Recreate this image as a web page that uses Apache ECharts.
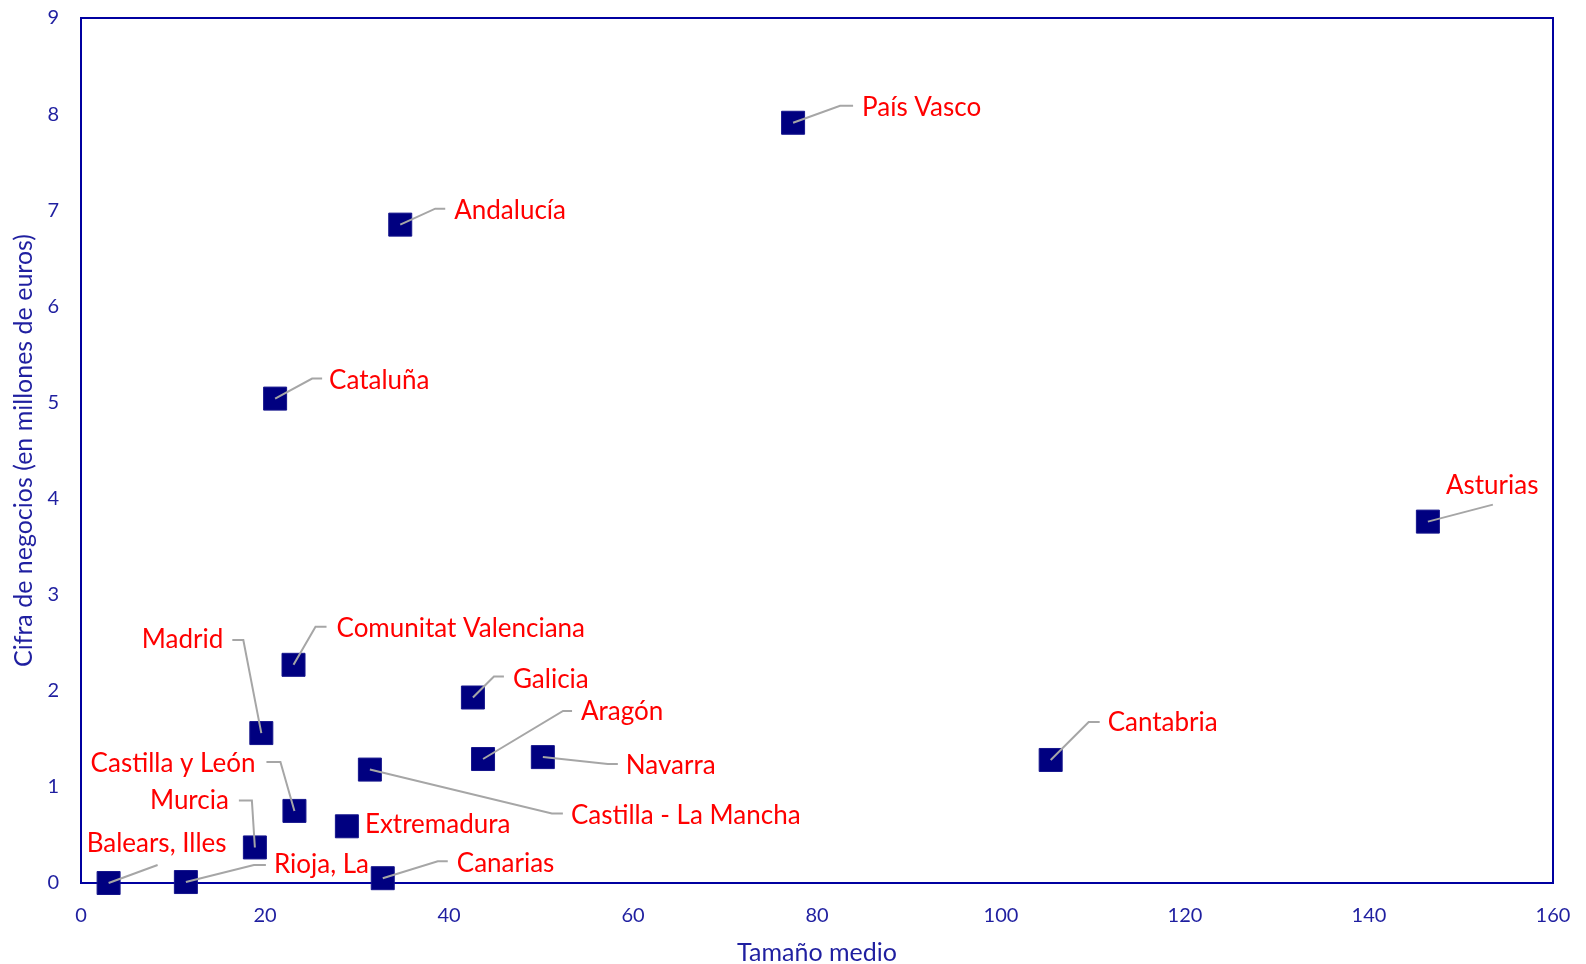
<!DOCTYPE html>
<html>
<head>
<meta charset="utf-8">
<script src="https://cdn.jsdelivr.net/npm/echarts@6/dist/echarts.min.js"></script>
<style>
html,body{margin:0;padding:0;background:#fff;}
#chart{width:1586px;height:964px;}
</style>
</head>
<body>
<div id="chart"></div>
<script>
// ---- DATA ----
const regions = ["País Vasco","Andalucía","Cataluña","Asturias","Comunitat Valenciana","Galicia","Madrid","Aragón","Navarra","Cantabria","Castilla - La Mancha","Castilla y León","Extremadura","Murcia","Balears, Illes","Rioja, La","Canarias"];
const tamanoMedio = [77.4, 34.7, 21.1, 146.4, 23.1, 42.6, 19.6, 43.7, 50.2, 105.4, 31.4, 23.2, 28.9, 18.9, 3.0, 11.4, 32.8];
const cifraNegocios = [7.91, 6.85, 5.04, 3.76, 2.27, 1.93, 1.56, 1.29, 1.31, 1.28, 1.18, 0.75, 0.59, 0.37, 0.0, 0.01, 0.05];
const xTicks = { min: 0, max: 160, interval: 20 };
const yTicks = { min: 0, max: 9, interval: 1 };

// ---- LABEL LAYOUT (pixel offsets from marker centre) ----
const labelLayout = {
  "País Vasco": { line: [[47,-17],[60,-17]], text: [69,-15,'left'] },
  "Andalucía": { line: [[35,-16],[45,-16]], text: [54,-14,'left'] },
  "Cataluña": { line: [[37,-20],[47,-20]], text: [54,-18,'left'] },
  "Asturias": { line: [[65,-17]], text: [18,-36,'left'] },
  "Comunitat Valenciana": { line: [[22,-38],[33,-38]], text: [43,-36,'left'] },
  "Galicia": { line: [[21,-21],[31,-21]], text: [40,-18,'left'] },
  "Madrid": { line: [[-18,-93],[-29,-93]], text: [-38,-93,'right'] },
  "Aragón": { line: [[80,-48],[89,-48]], text: [98,-47,'left'] },
  "Navarra": { line: [[65,7],[75,7]], text: [83,9,'left'] },
  "Cantabria": { line: [[38,-38],[49,-38]], text: [57,-37,'left'] },
  "Castilla - La Mancha": { line: [[182,44],[193,44]], text: [201,46,'left'] },
  "Castilla y León": { line: [[-14,-49],[-28,-49]], text: [-39,-47,'right'] },
  "Extremadura": { line: null, text: [18,-2,'left'] },
  "Murcia": { line: [[-3,-47],[-16,-47]], text: [-26,-47,'right'] },
  "Balears, Illes": { line: [[49,-18]], text: [48,-39,'center'] },
  "Rioja, La": { line: [[68,-17],[80,-17]], text: [88,-17,'left'] },
  "Canarias": { line: [[55,-17],[65,-17]], text: [74,-15,'left'] }
};

const FONT = 'Lato';
const AXIS_COLOR = '#0000A0';
const TEXT_BLUE = '#1F1FA0';

const points = regions.map((n, i) => [tamanoMedio[i], cifraNegocios[i], n]);

const chart = echarts.init(document.getElementById('chart'), null, { renderer: 'canvas' });
chart.setOption({
  animation: false,
  backgroundColor: '#ffffff',
  grid: { left: 81, top: 18, right: 33, bottom: 81, containLabel: false, outerBoundsMode: 'none',
          show: true, borderColor: AXIS_COLOR, borderWidth: 2 },
  xAxis: {
    type: 'value', min: xTicks.min, max: xTicks.max, interval: xTicks.interval,
    name: 'Tamaño medio', nameLocation: 'middle', nameGap: 57,
    nameTextStyle: { color: TEXT_BLUE, fontFamily: FONT, fontSize: 25 },
    axisLine: { show: true, lineStyle: { color: AXIS_COLOR, width: 2 } },
    axisTick: { show: false }, splitLine: { show: false },
    axisLabel: { color: TEXT_BLUE, fontFamily: FONT, fontSize: 20, margin: 23 }
  },
  yAxis: {
    type: 'value', min: yTicks.min, max: yTicks.max, interval: yTicks.interval,
    name: 'Cifra de negocios (en millones de euros)', nameLocation: 'middle', nameGap: 43, nameRotate: 90,
    nameTextStyle: { color: TEXT_BLUE, fontFamily: FONT, fontSize: 25 },
    axisLine: { show: true, lineStyle: { color: AXIS_COLOR, width: 2 } },
    axisTick: { show: false }, splitLine: { show: false },
    axisLabel: { color: TEXT_BLUE, fontFamily: FONT, fontSize: 20, margin: 22 }
  },
  series: [
    {
      type: 'scatter', z: 2,
      symbol: 'rect', symbolSize: 23,
      itemStyle: { color: '#000080', opacity: 1, borderColor: '#15158c', borderWidth: 1 },
      emphasis: { disabled: true },
      data: points
    },
    {
      type: 'custom', z: 3, clip: false,
      data: points,
      renderItem: function (params, api) {
        const name = regions[params.dataIndex];
        const L = labelLayout[name];
        const p = api.coord([api.value(0), api.value(1)]);
        const children = [];
        if (L.line) {
          const pts = [[p[0], p[1]]].concat(L.line.map(o => [p[0] + o[0], p[1] + o[1]]));
          children.push({ type: 'polyline', shape: { points: pts }, style: { stroke: '#A6A6A6', lineWidth: 2, fill: null } });
        }
        children.push({ type: 'text', x: p[0] + L.text[0], y: p[1] + L.text[1],
          style: { text: name, fill: '#FF0000', font: '26px ' + FONT, align: L.text[2], verticalAlign: 'middle' } });
        return { type: 'group', children: children };
      }
    }
  ]
});
</script>
</body>
</html>
